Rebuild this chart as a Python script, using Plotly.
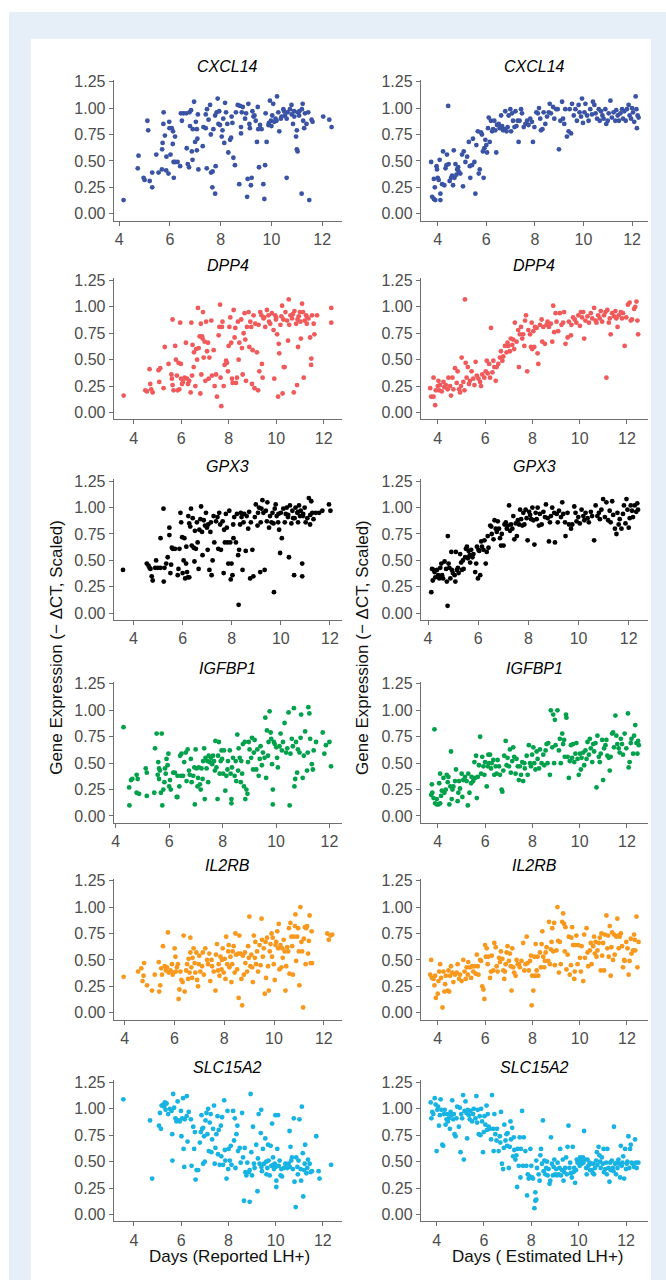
import plotly.graph_objects as go

# ---------------- data (Days, scaled expression) ----------------
cxcl14_rep = [(4.17,0.13),(4.73,0.43),(4.76,0.55),(4.96,0.34),(5.0,0.32),(5.11,0.88),(5.14,0.79),(5.2,0.31),(5.3,0.25),(5.3,0.39),
(5.46,0.56),(5.55,0.39),(5.68,0.42),(5.69,0.61),(5.71,0.67),(5.74,0.85),(5.75,0.96),(5.8,0.74),(5.85,0.41),(5.86,0.54),
(5.94,0.38),(5.97,0.87),(5.98,0.81),(6.02,0.56),(6.07,0.81),(6.11,0.66),(6.12,0.78),(6.15,0.34),(6.14,0.49),(6.2,0.73),
(6.2,0.49),(6.3,0.49),(6.4,0.45),(6.43,0.95),(6.47,0.88),(6.53,0.95),(6.64,0.95),(6.66,0.62),(6.7,0.47),(6.75,0.44),
(6.79,0.83),(6.77,0.96),(6.83,0.98),(6.86,0.59),(6.89,0.51),(6.9,0.8),(6.95,1.06),(6.99,0.68),(7.02,0.87),(7.06,0.6),
(7.06,0.8),(7.08,0.71),(7.1,0.94),(7.12,0.42),(7.29,0.64),(7.32,0.82),(7.41,0.81),(7.41,0.94),(7.45,0.43),(7.46,0.99),
(7.52,0.89),(7.58,1.03),(7.61,0.75),(7.62,0.39),(7.67,0.25),(7.68,0.4),(7.71,0.8),(7.78,0.93),(7.84,0.96),(7.78,0.19),
(7.8,0.45),(7.88,1.09),(7.91,0.85),(7.97,0.84),(7.94,0.97),(8.04,0.73),(8.07,0.79),(8.1,0.9),(8.14,0.67),(8.17,1.05),
(8.21,0.96),(8.26,0.85),(8.3,0.58),(8.37,0.7),(8.41,0.72),(8.43,0.92),(8.46,0.86),(8.5,0.53),(8.56,0.46),(8.6,0.96),
(8.67,1.03),(8.73,0.28),(8.76,1.02),(8.8,0.76),(8.8,0.82),(8.83,0.96),(8.87,1.01),(8.96,0.9),(9.0,0.95),(9.04,0.16),
(9.06,0.33),(9.09,1.04),(9.13,0.85),(9.15,0.81),(9.19,0.27),(9.22,0.34),(9.25,0.97),(9.29,0.92),(9.33,0.93),(9.38,0.88),
(9.43,0.68),(9.46,1.01),(9.48,0.8),(9.51,0.44),(9.55,0.84),(9.61,0.8),(9.68,0.28),(9.72,0.14),(9.75,0.46),(9.77,0.95),
(9.81,0.68),(9.88,0.84),(9.94,1.07),(9.98,0.88),(10.03,0.93),(10.07,1.04),(10.11,0.87),(10.16,0.9),(10.22,1.11),(10.27,0.96),
(10.31,0.78),(10.37,0.9),(10.47,0.99),(10.53,0.93),(10.6,0.34),(10.64,0.96),(10.73,0.99),(10.79,1.03),(10.85,0.85),(10.89,0.97),
(10.97,0.73),(11.0,0.79),(11.0,0.61),(11.03,0.59),(11.03,0.96),(11.09,0.93),(11.19,0.19),(11.23,1.04),(11.25,0.88),(11.29,0.81),
(11.32,0.95),(11.38,0.85),(11.45,0.96),(11.49,0.13),(11.58,0.89),(11.62,0.87),(12.04,0.92),(12.28,0.89),(12.37,0.82),
(10.2,0.88),(10.4,0.92),(10.6,0.9),(10.9,0.92),(9.9,0.86),(10.0,0.83),(11.1,0.97),(11.2,0.99),(10.5,0.97),(10.8,0.94)]

cxcl14_est = [(3.73,0.49),(3.77,0.16),(3.84,0.14),(3.9,0.13),(3.84,0.33),(3.88,0.25),(3.95,0.45),(3.97,0.42),(4.0,0.34),(4.04,0.32),
(4.08,0.51),(4.11,0.13),(4.11,0.19),(4.18,0.28),(4.22,0.59),(4.27,0.27),(4.32,0.43),(4.36,0.46),(4.38,0.56),(4.43,1.02),
(4.45,0.47),(4.49,0.31),(4.55,0.34),(4.59,0.36),(4.63,0.27),(4.66,0.6),(4.69,0.34),(4.73,0.47),(4.77,0.37),(4.8,0.42),
(4.84,0.44),(4.86,0.4),(4.93,0.38),(5.0,0.56),(5.04,0.26),(5.07,0.59),(5.14,0.49),(5.21,0.54),(5.28,0.68),(5.32,0.45),
(5.34,0.34),(5.41,0.46),(5.45,0.71),(5.51,0.49),(5.55,0.19),(5.59,0.65),(5.65,0.78),(5.69,0.38),(5.73,0.42),(5.78,0.77),
(5.82,0.75),(5.86,0.59),(5.89,0.34),(5.92,0.62),(5.96,0.7),(6.0,0.65),(6.03,0.58),(6.07,0.81),(6.1,0.91),(6.14,0.68),
(6.19,0.88),(6.24,0.78),(6.28,0.8),(6.33,0.88),(6.37,0.79),(6.41,0.58),(6.44,0.84),(6.51,0.85),(6.55,0.81),(6.61,0.93),
(6.65,0.83),(6.69,0.79),(6.74,0.8),(6.78,0.97),(6.83,0.78),(6.88,0.82),(6.92,0.93),(6.99,0.99),(7.02,0.78),(7.06,0.95),
(7.1,0.88),(7.16,0.82),(7.2,0.97),(7.24,0.83),(7.29,0.88),(7.33,0.68),(7.37,0.88),(7.43,0.99),(7.47,0.95),(7.54,0.82),
(7.61,0.85),(7.68,0.88),(7.74,0.84),(7.81,0.9),(7.88,0.87),(7.92,0.68),(7.98,0.82),(8.06,0.96),(8.12,0.95),(8.17,1.0),
(8.22,0.9),(8.25,0.79),(8.31,0.8),(8.36,0.96),(8.43,0.85),(8.5,0.92),(8.57,0.96),(8.61,1.04),(8.66,0.95),(8.75,1.01),
(8.8,0.9),(8.88,0.99),(8.94,0.99),(8.99,0.61),(9.05,0.88),(9.12,1.06),(9.16,0.9),(9.21,0.85),(9.25,0.99),(9.32,0.73),
(9.39,0.78),(9.43,0.99),(9.49,0.76),(9.53,1.04),(9.6,0.93),(9.67,0.99),(9.73,0.88),(9.8,1.03),(9.84,0.96),(9.9,0.92),
(9.94,1.09),(9.98,0.86),(10.04,0.96),(10.08,1.04),(10.15,0.93),(10.21,0.88),(10.28,0.99),(10.35,0.94),(10.39,1.06),(10.45,1.03),
(10.5,0.95),(10.56,0.9),(10.63,0.99),(10.67,0.88),(10.72,0.97),(10.78,0.93),(10.83,0.9),(10.9,0.99),(10.94,0.85),(11.0,0.88),
(11.04,0.95),(11.11,1.07),(11.17,0.91),(11.24,0.96),(11.31,0.88),(11.35,0.98),(11.41,0.93),(11.46,0.88),(11.52,0.95),(11.59,0.99),
(11.63,0.9),(11.68,0.97),(11.74,0.88),(11.79,0.99),(11.86,1.03),(11.9,0.93),(11.96,0.9),(12.0,1.0),(12.04,0.96),(12.09,0.87),
(12.15,1.11),(12.18,0.99),(12.2,0.81),(12.23,0.93),(12.27,0.91)]

dpp4_rep = [(3.58,0.16),(4.49,0.21),(4.56,0.2),(4.67,0.41),(4.7,0.27),(4.74,0.22),(4.8,0.19),(5.05,0.4),(5.12,0.42),(5.08,0.29),
(5.26,0.23),(5.31,0.62),(5.47,0.46),(5.59,0.36),(5.61,0.32),(5.64,0.88),(5.64,0.26),(5.68,0.21),(5.75,0.63),(5.78,0.5),
(5.82,0.35),(5.85,0.21),(5.89,0.47),(5.92,0.22),(5.96,0.85),(5.99,0.46),(6.0,0.32),(6.04,0.27),(6.08,0.29),(6.15,0.33),
(6.2,0.66),(6.25,0.32),(6.29,0.27),(6.34,0.3),(6.4,0.19),(6.43,0.85),(6.46,0.35),(6.48,0.64),(6.53,0.43),(6.54,0.57),
(6.6,0.25),(6.63,0.6),(6.67,0.5),(6.71,0.99),(6.74,0.61),(6.78,0.72),(6.81,0.18),(6.83,0.84),(6.85,0.36),(6.88,0.72),
(6.9,0.7),(6.92,0.95),(6.95,0.52),(6.99,0.67),(7.02,0.3),(7.05,0.86),(7.09,0.58),(7.13,0.66),(7.16,0.32),(7.19,0.52),
(7.27,0.87),(7.3,0.35),(7.37,0.59),(7.41,0.25),(7.47,0.36),(7.51,0.15),(7.58,0.73),(7.61,0.81),(7.64,1.02),(7.66,0.33),
(7.69,0.06),(7.72,0.81),(7.74,0.86),(7.79,0.25),(7.83,0.45),(7.89,0.49),(7.93,0.47),(7.97,0.39),(8.0,0.63),(8.03,0.81),
(8.07,0.9),(8.11,0.66),(8.14,0.32),(8.17,0.28),(8.21,0.97),(8.25,0.71),(8.28,0.8),(8.31,0.28),(8.35,0.33),(8.39,0.86),
(8.42,0.5),(8.45,0.66),(8.53,0.88),(8.56,0.61),(8.59,0.36),(8.63,0.75),(8.67,0.94),(8.7,0.69),(8.73,0.3),(8.77,0.81),
(8.84,0.95),(8.87,0.62),(8.91,0.86),(8.95,0.81),(8.98,0.27),(9.01,0.59),(9.05,0.92),(9.09,0.23),(9.12,0.84),(9.19,0.57),
(9.24,0.21),(9.26,0.83),(9.29,0.39),(9.33,0.95),(9.38,0.92),(9.4,0.46),(9.43,0.33),(9.47,0.89),(9.54,0.81),(9.61,0.97),
(9.68,0.92),(9.75,0.84),(9.82,0.94),(9.89,0.78),(9.92,0.32),(9.96,0.92),(9.99,0.88),(10.04,0.74),(10.08,0.15),(10.11,0.65),
(10.13,0.56),(10.18,0.83),(10.22,0.91),(10.25,1.01),(10.27,0.18),(10.32,0.43),(10.36,0.43),(10.39,0.95),(10.46,0.87),(10.5,0.68),
(10.53,1.07),(10.55,0.83),(10.6,0.92),(10.67,0.89),(10.74,0.19),(10.77,0.96),(10.84,0.84),(10.88,0.26),(10.92,0.62),(10.95,0.91),
(11.02,0.86),(11.04,0.7),(11.09,1.03),(11.13,0.95),(11.16,0.33),(11.2,0.87),(11.26,0.92),(11.29,0.84),(11.36,0.89),(11.43,0.71),
(11.47,0.45),(11.48,0.51),(11.51,0.92),(11.58,0.84),(11.61,0.74),(11.72,0.92),(12.32,0.99),(12.32,0.85),
(9.7,0.86),(10.0,0.9),(10.3,0.88),(10.7,0.93),(11.0,0.95),(11.3,0.9),(9.5,0.9),(10.9,0.88)]

dpp4_est = [(3.68,0.23),(3.72,0.15),(3.82,0.15),(3.82,0.33),(3.89,0.07),(3.92,0.21),(4.0,0.25),(4.06,0.21),(4.03,0.3),(4.1,0.26),
(4.17,0.2),(4.24,0.29),(4.28,0.24),(4.34,0.26),(4.42,0.22),(4.45,0.33),(4.52,0.25),(4.56,0.16),(4.62,0.33),(4.66,0.22),
(4.73,0.42),(4.8,0.28),(4.84,0.39),(4.9,0.22),(4.94,0.19),(4.98,0.25),(5.01,0.52),(5.08,0.29),(5.13,0.21),(5.15,1.07),
(5.18,0.47),(5.22,0.33),(5.27,0.43),(5.32,0.27),(5.36,0.3),(5.43,0.39),(5.5,0.32),(5.55,0.26),(5.6,0.48),(5.65,0.35),
(5.72,0.32),(5.79,0.29),(5.83,0.25),(5.88,0.36),(5.97,0.33),(6.03,0.39),(6.07,0.49),(6.11,0.37),(6.17,0.46),(6.21,0.33),
(6.25,0.8),(6.31,0.38),(6.35,0.49),(6.39,0.43),(6.45,0.3),(6.49,0.43),(6.56,0.46),(6.63,0.52),(6.67,0.58),(6.73,0.49),
(6.77,0.53),(6.84,0.63),(6.91,0.57),(6.95,0.66),(6.98,0.63),(7.05,0.58),(7.09,0.7),(7.15,0.64),(7.19,0.69),(7.23,0.6),
(7.26,0.85),(7.33,0.67),(7.4,0.78),(7.43,0.43),(7.47,0.74),(7.52,0.81),(7.57,0.7),(7.61,0.74),(7.66,0.63),(7.69,0.87),
(7.73,0.92),(7.78,0.39),(7.83,0.78),(7.9,0.74),(7.94,0.62),(7.97,0.85),(7.99,0.6),(8.04,0.77),(8.08,0.62),(8.11,0.81),
(8.18,0.8),(8.22,0.56),(8.25,0.46),(8.32,0.83),(8.39,0.88),(8.42,0.67),(8.46,0.81),(8.53,0.65),(8.6,0.83),(8.64,0.86),
(8.7,0.81),(8.78,0.84),(8.84,0.67),(8.88,1.01),(8.92,0.76),(8.98,0.94),(9.02,0.86),(9.09,0.77),(9.16,0.94),(9.23,0.83),
(9.3,0.85),(9.34,0.95),(9.4,0.65),(9.49,0.71),(9.54,0.86),(9.63,0.73),(9.65,0.83),(9.72,0.9),(9.79,0.88),(9.86,0.85),
(9.94,0.92),(10.01,0.82),(10.05,0.95),(10.1,0.9),(10.15,0.95),(10.19,0.7),(10.24,0.87),(10.33,0.91),(10.39,0.85),(10.47,0.94),
(10.53,0.89),(10.61,0.99),(10.67,0.87),(10.71,0.85),(10.78,0.92),(10.85,0.89),(10.89,0.96),(10.95,0.86),(11.03,0.92),(11.09,0.95),
(11.13,0.33),(11.17,0.97),(11.23,0.85),(11.27,0.89),(11.31,0.74),(11.37,0.94),(11.45,0.91),(11.51,0.96),(11.55,0.89),(11.6,0.81),
(11.65,0.92),(11.74,0.95),(11.79,0.89),(11.83,0.94),(11.9,0.63),(11.97,0.9),(12.04,1.02),(12.11,1.04),(12.16,0.87),(12.21,0.88),
(12.3,0.98),(12.35,1.0),(12.4,1.05),(12.44,0.87),(12.47,0.74)]

gpx3_rep = [(3.57,0.41),(4.54,0.47),(4.61,0.45),(4.65,0.43),(4.69,0.42),(4.74,0.35),(4.78,0.31),(4.88,0.43),(4.99,0.43),(5.1,0.43),
(4.92,0.5),(5.1,0.71),(5.22,0.99),(5.23,0.3),(5.26,0.43),(5.33,0.47),(5.39,0.53),(5.46,0.81),(5.46,0.74),(5.5,0.38),
(5.53,0.46),(5.56,0.62),(5.6,0.61),(5.69,0.61),(5.8,0.36),(5.83,0.42),(5.87,0.61),(5.91,0.95),(5.94,0.86),(5.98,0.72),
(6.0,0.38),(6.04,0.5),(6.07,0.71),(6.1,0.33),(6.14,0.47),(6.15,0.63),(6.18,0.39),(6.21,0.34),(6.27,0.34),(6.23,0.92),
(6.27,0.85),(6.31,0.82),(6.34,0.99),(6.37,0.64),(6.41,0.9),(6.45,0.62),(6.48,0.49),(6.5,0.78),(6.54,0.61),(6.58,0.86),
(6.61,0.67),(6.65,0.42),(6.68,0.79),(6.72,0.89),(6.75,1.01),(6.79,0.77),(6.81,0.55),(6.86,0.88),(6.91,0.83),(6.95,0.95),
(6.99,0.81),(7.02,0.6),(7.04,0.84),(7.09,0.41),(7.13,0.77),(7.15,0.86),(7.18,0.36),(7.22,0.5),(7.26,0.92),(7.29,0.67),
(7.36,0.87),(7.42,0.91),(7.45,0.61),(7.49,0.95),(7.53,0.84),(7.56,0.6),(7.63,0.87),(7.67,0.38),(7.69,0.79),(7.72,0.67),
(7.76,0.94),(7.8,0.81),(7.83,0.67),(7.86,0.47),(7.9,0.97),(7.94,0.67),(7.96,0.32),(7.99,0.47),(8.03,0.36),(8.06,0.84),
(8.07,0.71),(8.1,0.91),(8.17,0.67),(8.21,0.94),(8.26,0.55),(8.28,0.08),(8.3,0.6),(8.34,0.84),(8.37,0.95),(8.4,0.91),
(8.44,0.41),(8.48,0.86),(8.51,0.94),(8.57,0.59),(8.61,0.92),(8.67,0.8),(8.71,0.96),(8.75,0.33),(8.78,0.86),(8.84,0.6),
(8.88,0.35),(8.94,0.91),(8.98,1.03),(9.05,0.83),(9.07,0.95),(9.11,1.0),(9.16,0.39),(9.18,0.86),(9.21,0.99),(9.25,1.07),
(9.29,0.95),(9.34,0.41),(9.39,0.97),(9.43,0.87),(9.45,1.05),(9.52,0.81),(9.56,0.92),(9.62,0.86),(9.66,0.95),(9.7,0.85),
(9.72,0.2),(9.75,0.99),(9.79,1.03),(9.83,0.92),(9.89,0.86),(9.93,0.79),(9.97,0.57),(10.0,0.95),(10.04,0.71),(10.1,0.99),
(10.16,0.86),(10.2,0.94),(10.24,1.0),(10.29,0.91),(10.33,0.53),(10.37,1.02),(10.43,0.85),(10.47,0.97),(10.54,0.36),(10.56,0.9),
(10.6,1.0),(10.67,0.95),(10.7,0.86),(10.74,1.02),(10.78,0.92),(10.81,0.97),(10.87,0.47),(10.87,0.35),(10.91,0.94),(10.97,1.0),
(11.01,0.86),(11.08,0.9),(11.14,1.09),(11.19,0.84),(11.24,1.06),(11.28,0.95),(11.33,0.89),(11.42,0.95),(11.56,0.95),(11.69,0.97),
(11.96,1.03),(12.02,0.97),(10.3,0.93),(10.5,0.9),(10.9,0.92),(11.2,0.93),(9.9,0.94),(10.7,0.96)]

gpx3_est = [(4.13,0.2),(4.16,0.42),(4.19,0.31),(4.23,0.41),(4.26,0.39),(4.29,0.34),(4.36,0.41),(4.4,0.36),(4.45,0.33),(4.49,0.43),
(4.53,0.47),(4.56,0.36),(4.6,0.33),(4.66,0.49),(4.72,0.42),(4.75,0.3),(4.78,0.07),(4.79,0.73),(4.82,0.47),(4.85,0.43),
(4.89,0.33),(4.93,0.58),(4.95,0.41),(4.99,0.38),(5.06,0.36),(5.09,0.3),(5.11,0.58),(5.15,0.41),(5.19,0.43),(5.22,0.38),
(5.28,0.56),(5.32,0.48),(5.35,0.41),(5.39,0.5),(5.42,0.42),(5.48,0.53),(5.51,0.61),(5.55,0.63),(5.59,0.52),(5.62,0.59),
(5.66,0.55),(5.68,0.48),(5.72,0.6),(5.77,0.53),(5.81,0.56),(5.88,0.39),(5.92,0.47),(5.95,0.63),(5.99,0.33),(6.01,0.6),
(6.04,0.59),(6.08,0.36),(6.12,0.68),(6.15,0.63),(6.21,0.6),(6.25,0.69),(6.3,0.47),(6.34,0.58),(6.38,0.73),(6.41,0.62),
(6.48,0.83),(6.52,0.82),(6.54,0.75),(6.61,0.7),(6.65,0.88),(6.7,0.8),(6.74,0.77),(6.78,0.87),(6.83,0.8),(6.87,0.71),
(6.91,0.64),(6.94,0.75),(7.01,0.64),(7.05,0.84),(7.1,0.86),(7.14,0.8),(7.18,0.83),(7.23,1.02),(7.27,0.78),(7.31,0.84),
(7.36,0.8),(7.4,0.92),(7.44,0.7),(7.5,0.85),(7.54,0.73),(7.58,0.88),(7.63,0.84),(7.67,0.98),(7.71,0.89),(7.76,0.83),
(7.8,0.95),(7.84,0.84),(7.89,0.98),(7.93,0.9),(7.97,0.69),(8.03,0.96),(8.07,0.93),(8.11,0.89),(8.16,1.0),(8.2,0.88),
(8.24,0.65),(8.29,0.95),(8.33,0.89),(8.37,1.0),(8.42,0.83),(8.46,0.94),(8.53,0.84),(8.6,0.96),(8.66,0.91),(8.7,1.03),
(8.77,0.9),(8.82,0.68),(8.86,0.86),(8.9,0.92),(8.95,1.0),(9.03,0.95),(9.06,0.67),(9.13,0.94),(9.17,0.86),(9.22,0.97),
(9.3,0.91),(9.35,1.05),(9.39,0.94),(9.46,0.86),(9.48,0.73),(9.56,0.95),(9.62,0.84),(9.7,0.8),(9.75,0.84),(9.83,1.01),
(9.88,0.95),(9.92,0.87),(9.99,0.91),(10.05,0.85),(10.12,0.98),(10.19,0.92),(10.23,0.88),(10.28,0.95),(10.36,0.9),(10.41,0.86),
(10.49,0.96),(10.54,0.92),(10.62,0.69),(10.68,1.02),(10.75,0.92),(10.81,0.95),(10.85,0.89),(10.91,0.98),(10.98,1.08),(11.05,0.91),
(11.11,1.05),(11.18,0.88),(11.24,0.97),(11.28,0.86),(11.34,1.06),(11.38,0.93),(11.45,0.8),(11.51,0.75),(11.55,0.95),(11.6,0.84),
(11.64,0.89),(11.71,0.8),(11.77,0.94),(11.81,1.02),(11.87,0.85),(11.91,1.08),(11.95,0.98),(12.0,0.81),(12.04,0.9),(12.08,1.02),
(12.13,0.97),(12.17,0.91),(12.24,1.02),(12.3,0.96),(12.34,1.04),(12.37,0.98)]

igfbp1_rep = [(4.29,0.84),(4.5,0.27),(4.51,0.1),(4.57,0.34),(4.62,0.35),(4.78,0.39),(4.78,0.22),(4.87,0.21),(4.82,0.35),(5.12,0.45),
(5.16,0.41),(5.16,0.19),(5.44,0.22),(5.47,0.64),(5.53,0.78),(5.57,0.39),(5.59,0.51),(5.62,0.45),(5.62,0.35),(5.65,0.43),
(5.69,0.22),(5.72,0.78),(5.74,0.1),(5.78,0.25),(5.82,0.32),(5.84,0.45),(5.87,0.4),(5.9,0.54),(5.94,0.48),(5.97,0.59),
(6.0,0.28),(6.03,0.34),(6.06,0.25),(6.15,0.41),(6.21,0.41),(6.28,0.18),(6.31,0.18),(6.31,0.38),(6.38,0.28),(6.41,0.57),
(6.44,0.38),(6.46,0.59),(6.52,0.38),(6.56,0.51),(6.62,0.6),(6.65,0.33),(6.69,0.63),(6.74,0.43),(6.77,0.39),(6.81,0.54),
(6.84,0.32),(6.9,0.38),(6.94,0.46),(6.96,0.11),(6.99,0.63),(7.02,0.45),(7.06,0.28),(7.08,0.36),(7.11,0.46),(7.15,0.3),
(7.18,0.25),(7.21,0.45),(7.25,0.35),(7.27,0.52),(7.31,0.64),(7.33,0.16),(7.36,0.55),(7.4,0.45),(7.43,0.52),(7.46,0.32),
(7.48,0.57),(7.52,0.51),(7.56,0.55),(7.61,0.49),(7.64,0.57),(7.68,0.52),(7.71,0.43),(7.73,0.71),(7.77,0.46),(7.81,0.16),
(7.83,0.57),(7.86,0.7),(7.89,0.4),(7.93,0.52),(7.96,0.62),(7.98,0.54),(8.02,0.4),(8.05,0.62),(8.1,0.24),(8.14,0.38),
(8.18,0.44),(8.2,0.52),(8.27,0.62),(8.3,0.4),(8.33,0.16),(8.33,0.12),(8.35,0.46),(8.39,0.55),(8.45,0.38),(8.49,0.52),
(8.51,0.33),(8.55,0.77),(8.58,0.43),(8.6,0.64),(8.64,0.55),(8.68,0.32),(8.7,0.52),(8.73,0.4),(8.76,0.68),(8.8,0.28),
(8.83,0.7),(8.85,0.16),(8.89,0.25),(8.93,0.21),(8.95,0.51),(8.98,0.7),(9.01,0.63),(9.07,0.55),(9.1,0.74),(9.14,0.44),
(9.17,0.6),(9.2,0.72),(9.26,0.44),(9.3,0.63),(9.35,0.38),(9.39,0.54),(9.42,0.66),(9.47,0.48),(9.51,0.6),(9.57,0.55),
(9.6,0.93),(9.63,0.36),(9.66,0.81),(9.7,0.57),(9.72,0.7),(9.76,0.99),(9.8,0.79),(9.82,0.73),(9.85,0.49),(9.88,0.25),
(9.88,0.11),(9.92,0.7),(9.95,0.68),(10.01,0.65),(10.04,0.55),(10.07,0.46),(10.13,0.66),(10.17,0.78),(10.22,0.62),(10.26,0.7),
(10.32,0.88),(10.38,0.6),(10.42,0.64),(10.47,0.98),(10.51,0.1),(10.54,0.59),(10.59,0.73),(10.63,0.66),(10.67,1.02),(10.69,0.28),
(10.72,0.35),(10.75,0.7),(10.79,0.41),(10.82,0.63),(10.88,0.6),(10.92,0.74),(10.94,0.96),(11.0,0.36),(11.04,0.57),(11.09,0.8),
(11.16,0.43),(11.19,0.6),(11.21,1.03),(11.25,0.97),(11.28,0.73),(11.34,0.49),(11.38,0.44),(11.41,0.62),(11.5,0.7),(11.75,0.79),
(11.81,0.59),(11.87,0.67),(12.0,0.7),(12.06,0.47)]

igfbp1_est = [(3.72,0.2),(3.75,0.3),(3.77,0.22),(3.82,0.17),(3.86,0.82),(3.89,0.12),(3.96,0.11),(4.03,0.11),(4.1,0.12),(3.96,0.16),
(4.06,0.31),(4.1,0.4),(4.14,0.19),(4.17,0.24),(4.24,0.36),(4.28,0.22),(4.34,0.25),(4.38,0.39),(4.42,0.32),(4.45,0.37),
(4.49,0.11),(4.53,0.28),(4.56,0.61),(4.59,0.16),(4.62,0.25),(4.66,0.28),(4.73,0.33),(4.77,0.44),(4.84,0.14),(4.87,0.22),
(4.9,0.33),(4.94,0.26),(5.01,0.4),(5.04,0.18),(5.08,0.34),(5.15,0.37),(5.22,0.33),(5.27,0.1),(5.29,0.4),(5.34,0.22),
(5.41,0.31),(5.43,0.37),(5.5,0.33),(5.55,0.51),(5.58,0.36),(5.62,0.57),(5.65,0.17),(5.69,0.37),(5.74,0.48),(5.79,0.75),
(5.83,0.4),(5.88,0.56),(5.93,0.47),(5.97,0.39),(6.0,0.51),(6.07,0.28),(6.11,0.47),(6.14,0.58),(6.17,0.5),(6.21,0.58),
(6.25,0.45),(6.28,0.5),(6.35,0.53),(6.39,0.39),(6.45,0.47),(6.49,0.4),(6.53,0.53),(6.59,0.47),(6.63,0.39),(6.7,0.25),
(6.73,0.23),(6.77,0.43),(6.81,0.57),(6.87,0.71),(6.91,0.48),(6.95,0.55),(7.01,0.47),(7.05,0.63),(7.09,0.41),(7.15,0.52),
(7.19,0.65),(7.23,0.56),(7.29,0.4),(7.33,0.54),(7.38,0.47),(7.43,0.34),(7.47,0.47),(7.52,0.39),(7.57,0.51),(7.61,0.33),
(7.66,0.5),(7.68,0.45),(7.76,0.57),(7.8,0.39),(7.85,0.67),(7.9,0.5),(7.94,0.47),(7.99,0.58),(8.04,0.65),(8.08,0.5),
(8.13,0.44),(8.18,0.61),(8.22,0.54),(8.28,0.45),(8.32,0.63),(8.39,0.5),(8.46,0.58),(8.5,0.48),(8.56,0.62),(8.6,0.68),
(8.64,0.5),(8.67,0.69),(8.74,0.39),(8.78,1.0),(8.84,0.65),(8.88,0.96),(8.95,0.91),(8.92,0.5),(8.98,0.67),(9.06,1.0),
(9.12,0.62),(9.16,0.73),(9.2,0.5),(9.26,0.78),(9.3,0.68),(9.34,0.72),(9.37,0.56),(9.42,0.96),(9.44,0.93),(9.49,0.56),
(9.54,0.36),(9.58,0.52),(9.63,0.67),(9.68,0.55),(9.72,0.68),(9.77,0.51),(9.82,0.59),(9.86,0.69),(9.91,0.54),(9.96,0.39),
(10.01,0.59),(10.05,0.44),(10.08,0.55),(10.15,0.6),(10.19,0.48),(10.24,0.62),(10.29,0.54),(10.33,0.7),(10.39,0.58),(10.43,0.73),
(10.47,0.64),(10.53,0.51),(10.57,0.68),(10.61,0.61),(10.67,0.69),(10.71,0.27),(10.75,0.76),(10.81,0.56),(10.85,0.51),(10.89,0.59),
(10.95,0.72),(10.99,0.34),(11.03,0.64),(11.09,0.67),(11.13,0.72),(11.17,0.57),(11.23,0.55),(11.27,0.43),(11.31,0.56),(11.37,0.78),
(11.41,0.79),(11.45,0.65),(11.51,0.95),(11.55,0.76),(11.59,0.68),(11.65,0.64),(11.69,0.6),(11.74,0.73),(11.79,0.68),(11.83,0.58),
(11.9,0.78),(11.97,0.64),(12.04,0.97),(12.07,0.46),(12.11,0.51),(12.16,0.69),(12.19,0.73),(12.26,0.59),(12.3,0.76),(12.35,0.86),
(12.4,0.69),(12.44,0.59),(12.47,0.71),(12.5,0.67)]

il2rb_rep = [(3.96,0.34),(4.54,0.39),(4.67,0.42),(4.72,0.3),(4.76,0.35),(4.78,0.47),(4.9,0.26),(5.1,0.21),(5.21,0.36),(5.37,0.48),
(5.39,0.2),(5.43,0.26),(5.47,0.42),(5.5,0.36),(5.54,0.63),(5.61,0.44),(5.66,0.4),(5.7,0.43),(5.74,0.76),(5.77,0.38),
(5.84,0.4),(5.9,0.46),(5.93,0.36),(5.97,0.38),(6.01,0.61),(6.04,0.53),(6.06,0.39),(6.1,0.43),(6.14,0.46),(6.17,0.13),
(6.2,0.22),(6.24,0.39),(6.28,0.31),(6.33,0.29),(6.37,0.73),(6.41,0.2),(6.47,0.4),(6.51,0.46),(6.55,0.32),(6.57,0.51),
(6.61,0.38),(6.64,0.71),(6.64,0.57),(6.68,0.43),(6.71,0.33),(6.73,0.52),(6.77,0.61),(6.81,0.47),(6.84,0.38),(6.88,0.57),
(6.91,0.31),(6.95,0.25),(6.98,0.46),(7.0,0.54),(7.04,0.39),(7.11,0.44),(7.14,0.57),(7.18,0.36),(7.24,0.61),(7.31,0.5),
(7.35,0.46),(7.4,0.56),(7.44,0.3),(7.49,0.5),(7.51,0.44),(7.58,0.39),(7.65,0.21),(7.67,0.55),(7.71,0.65),(7.75,0.4),
(7.78,0.46),(7.81,0.35),(7.85,0.53),(7.89,0.41),(7.91,0.5),(7.94,0.61),(7.98,0.38),(8.02,0.51),(8.05,0.32),(8.08,0.72),
(8.12,0.46),(8.16,0.58),(8.18,0.64),(8.21,0.43),(8.25,0.53),(8.29,0.29),(8.32,0.46),(8.34,0.58),(8.38,0.63),(8.42,0.38),
(8.45,0.75),(8.48,0.55),(8.52,0.41),(8.56,0.56),(8.58,0.14),(8.61,0.73),(8.65,0.56),(8.69,0.32),(8.72,0.07),(8.75,0.54),
(8.79,0.36),(8.83,0.57),(8.85,0.47),(8.92,0.39),(8.96,0.63),(8.99,0.52),(9.01,0.91),(9.05,0.44),(9.09,0.55),(9.12,0.43),
(9.15,0.29),(9.19,0.73),(9.23,0.52),(9.25,0.67),(9.28,0.46),(9.32,0.58),(9.36,0.39),(9.42,0.64),(9.46,0.45),(9.5,0.89),
(9.52,0.69),(9.55,0.53),(9.59,0.61),(9.63,0.18),(9.66,0.67),(9.68,0.33),(9.72,0.71),(9.76,0.44),(9.79,0.21),(9.83,0.58),
(9.86,0.65),(9.9,0.75),(9.92,0.53),(9.95,0.71),(9.99,0.46),(10.03,0.31),(10.06,0.64),(10.09,0.67),(10.13,0.77),(10.17,0.61),
(10.19,0.84),(10.22,0.41),(10.26,0.64),(10.3,0.43),(10.33,0.61),(10.35,0.52),(10.39,0.69),(10.43,0.58),(10.46,0.21),(10.49,0.44),
(10.53,0.62),(10.57,0.58),(10.6,0.8),(10.62,0.37),(10.66,0.85),(10.7,0.72),(10.73,0.63),(10.76,0.36),(10.8,0.72),(10.84,0.82),
(10.86,0.93),(10.89,0.49),(10.93,0.72),(10.97,0.8),(11.0,0.58),(11.02,0.26),(11.06,1.0),(11.1,0.67),(11.13,0.58),(11.17,0.05),
(11.2,0.7),(11.24,0.81),(11.27,0.46),(11.29,0.8),(11.33,0.82),(11.37,0.56),(11.4,0.68),(11.43,0.92),(11.47,0.47),(11.51,0.77),
(11.53,0.47),(12.14,0.75),(12.2,0.69),(12.27,0.73),(12.34,0.74)]

il2rb_est = [(3.72,0.5),(3.68,0.36),(3.75,0.33),(3.82,0.32),(3.86,0.26),(3.89,0.35),(3.92,0.14),(4.0,0.18),(4.03,0.3),(4.06,0.39),
(4.1,0.46),(4.14,0.33),(4.2,0.05),(4.24,0.39),(4.28,0.2),(4.31,0.27),(4.34,0.35),(4.42,0.21),(4.45,0.4),(4.48,0.2),
(4.52,0.35),(4.56,0.44),(4.62,0.38),(4.66,0.29),(4.73,0.36),(4.8,0.38),(4.84,0.46),(4.9,0.32),(4.94,0.36),(5.01,0.3),
(5.08,0.5),(5.13,0.39),(5.18,0.32),(5.22,0.43),(5.27,0.36),(5.29,0.48),(5.36,0.43),(5.41,0.33),(5.46,0.44),(5.5,0.39),
(5.55,0.44),(5.6,0.37),(5.65,0.55),(5.69,0.44),(5.72,0.36),(5.79,0.5),(5.83,0.49),(5.88,0.25),(5.93,0.22),(5.97,0.13),
(6.0,0.64),(6.03,0.53),(6.07,0.61),(6.11,0.46),(6.14,0.53),(6.21,0.33),(6.25,0.39),(6.28,0.54),(6.35,0.4),(6.39,0.66),
(6.45,0.62),(6.49,0.44),(6.53,0.39),(6.59,0.52),(6.63,0.48),(6.67,0.58),(6.73,0.51),(6.77,0.4),(6.81,0.32),(6.84,0.39),
(6.87,0.46),(6.91,0.57),(6.95,0.63),(7.01,0.49),(7.05,0.56),(7.09,0.44),(7.12,0.21),(7.15,0.61),(7.19,0.43),(7.23,0.38),
(7.29,0.35),(7.33,0.5),(7.38,0.46),(7.43,0.46),(7.47,0.43),(7.54,0.49),(7.61,0.66),(7.66,0.4),(7.71,0.46),(7.76,0.72),
(7.8,0.47),(7.85,0.4),(7.9,0.49),(7.94,0.54),(7.97,0.07),(7.99,0.35),(8.04,0.21),(8.08,0.53),(8.11,0.35),(8.14,0.65),
(8.18,0.4),(8.22,0.53),(8.25,0.35),(8.32,0.57),(8.36,0.43),(8.39,0.65),(8.42,0.77),(8.46,0.53),(8.5,0.43),(8.53,0.49),
(8.56,0.57),(8.6,0.62),(8.67,0.49),(8.7,0.86),(8.74,0.46),(8.78,0.6),(8.81,0.67),(8.84,0.8),(8.88,0.58),(8.92,0.85),
(8.95,0.45),(9.02,0.59),(9.06,1.0),(9.09,0.68),(9.12,0.38),(9.16,0.67),(9.2,0.46),(9.26,0.86),(9.3,0.94),(9.34,0.84),
(9.37,0.58),(9.4,0.81),(9.44,0.41),(9.49,0.55),(9.54,0.72),(9.58,0.36),(9.63,0.45),(9.65,0.71),(9.68,0.81),(9.72,0.64),
(9.77,0.32),(9.79,0.39),(9.82,0.64),(9.86,0.73),(9.91,0.46),(9.94,0.64),(10.01,0.52),(10.05,0.39),(10.08,0.63),(10.15,0.3),
(10.19,0.74),(10.22,0.52),(10.29,0.8),(10.33,0.57),(10.36,0.44),(10.43,0.59),(10.47,0.66),(10.5,0.46),(10.57,0.63),(10.61,0.72),
(10.64,0.56),(10.67,0.67),(10.71,0.53),(10.75,0.59),(10.81,0.66),(10.85,0.71),(10.89,0.4),(10.92,0.75),(10.95,0.54),(10.99,0.66),
(11.03,0.4),(11.06,0.74),(11.13,0.92),(11.17,0.61),(11.2,0.73),(11.23,0.53),(11.27,0.82),(11.31,0.35),(11.34,0.62),(11.37,0.76),
(11.41,0.5),(11.45,0.74),(11.48,0.55),(11.55,0.72),(11.59,0.89),(11.62,0.73),(11.65,0.61),(11.69,0.72),(11.74,0.75),(11.79,0.63),
(11.83,0.43),(11.88,0.5),(11.9,0.49),(11.97,0.67),(12.02,0.61),(12.07,0.36),(12.11,0.49),(12.16,0.7),(12.19,0.56),(12.26,0.59),
(12.3,0.74),(12.33,0.69),(12.35,0.59),(12.4,0.91),(12.44,0.43),(12.49,0.67)]

slc15a2_rep = [(3.55,1.09),(4.68,0.89),(4.77,0.34),(5.06,0.84),(5.14,0.81),(5.1,0.96),(5.17,1.03),(5.24,1.04),(5.31,1.06),(5.38,1.05),
(5.28,1.02),(5.34,0.99),(5.45,0.95),(5.52,1.0),(5.59,0.98),(5.62,0.76),(5.63,0.51),(5.66,1.14),(5.7,1.01),(5.76,0.91),
(5.8,0.88),(5.85,1.07),(5.87,0.89),(5.94,0.88),(5.99,0.98),(6.01,0.74),(6.04,0.91),(6.08,1.1),(6.1,0.62),(6.13,0.45),
(6.15,0.9),(6.23,0.93),(6.24,1.12),(6.27,0.69),(6.32,0.97),(6.41,0.9),(6.44,0.46),(6.51,0.83),(6.55,0.62),(6.58,0.78),
(6.61,0.33),(6.65,0.42),(6.72,0.42),(6.79,0.68),(6.83,0.78),(6.86,0.94),(6.89,0.81),(6.93,0.48),(6.93,0.82),(6.97,0.74),
(7.0,0.5),(7.03,0.89),(7.07,0.96),(7.11,0.76),(7.14,1.0),(7.17,0.6),(7.21,0.87),(7.25,0.95),(7.28,0.59),(7.31,0.71),
(7.35,0.81),(7.39,1.03),(7.42,0.48),(7.45,0.63),(7.49,0.76),(7.54,0.93),(7.56,0.57),(7.59,0.8),(7.63,0.47),(7.68,0.84),
(7.7,0.55),(7.73,0.92),(7.77,0.47),(7.82,1.08),(7.85,0.61),(7.87,0.51),(7.92,0.34),(7.96,0.98),(7.99,0.43),(8.01,0.62),
(8.06,0.51),(8.1,0.65),(8.13,0.47),(8.2,0.98),(8.24,0.7),(8.27,0.91),(8.3,0.44),(8.34,0.76),(8.38,0.84),(8.41,0.6),
(8.48,0.63),(8.52,0.49),(8.58,0.96),(8.62,0.54),(8.66,0.13),(8.69,0.63),(8.72,0.4),(8.76,0.37),(8.8,0.49),(8.86,0.4),
(8.9,0.12),(8.94,1.14),(8.97,0.59),(9.0,0.37),(9.04,0.83),(9.08,0.48),(9.11,0.44),(9.18,0.66),(9.23,0.22),(9.25,0.53),
(9.28,0.95),(9.32,0.48),(9.37,0.77),(9.39,0.99),(9.42,0.41),(9.46,0.62),(9.51,0.48),(9.56,0.72),(9.61,0.38),(9.65,0.44),
(9.68,0.66),(9.7,0.51),(9.75,0.37),(9.79,0.65),(9.82,0.46),(9.85,0.86),(9.89,0.54),(9.93,0.43),(9.96,0.48),(9.99,0.94),
(10.03,0.26),(10.03,0.32),(10.07,0.62),(10.1,0.94),(10.13,0.46),(10.17,0.51),(10.21,0.37),(10.24,0.43),(10.27,0.36),(10.35,0.44),
(10.41,0.48),(10.49,0.44),(10.55,0.48),(10.59,0.79),(10.63,0.64),(10.66,0.51),(10.69,0.54),(10.73,0.43),(10.77,0.91),(10.8,0.31),
(10.85,0.07),(10.87,0.54),(10.92,0.45),(10.94,0.38),(10.97,0.51),(11.01,0.9),(11.06,0.43),(11.08,0.32),(11.11,1.02),(11.15,0.58),
(11.17,0.17),(11.23,0.48),(11.25,0.66),(11.3,0.39),(11.34,0.44),(11.37,0.52),(11.44,0.48),(11.48,0.4),(11.54,0.41),(11.72,0.74),
(11.82,0.41),(11.86,0.34),(12.35,0.47),(9.9,0.47),(10.0,0.45),(9.6,0.5),(10.6,0.45),(11.2,0.42),(8.9,0.42),(9.4,0.45)]

slc15a2_est = [(3.75,1.06),(3.78,0.91),(3.82,0.97),(3.86,0.95),(3.92,1.1),(3.96,1.04),(4.0,0.6),(4.03,0.99),(4.06,1.02),(4.1,0.84),
(4.14,0.94),(4.17,1.09),(4.2,0.99),(4.24,0.66),(4.28,0.65),(4.31,0.95),(4.34,0.99),(4.38,0.85),(4.42,0.9),(4.45,0.95),
(4.48,0.88),(4.52,0.91),(4.56,0.81),(4.59,0.97),(4.62,0.94),(4.66,1.08),(4.7,0.9),(4.73,0.95),(4.76,0.76),(4.8,0.74),
(4.84,0.91),(4.87,1.02),(4.94,0.83),(4.98,1.01),(5.01,0.59),(5.04,0.95),(5.08,0.91),(5.12,1.13),(5.15,0.52),(5.18,0.98),
(5.22,1.07),(5.26,0.96),(5.29,0.72),(5.32,0.99),(5.36,0.94),(5.4,0.9),(5.43,0.98),(5.5,0.88),(5.54,0.95),(5.57,1.0),
(5.64,0.91),(5.68,1.12),(5.71,0.87),(5.74,0.99),(5.78,0.76),(5.82,0.93),(5.85,0.75),(5.88,1.0),(5.92,0.88),(5.96,0.59),
(5.99,0.78),(6.02,0.93),(6.06,0.85),(6.11,1.03),(6.13,0.8),(6.16,0.95),(6.2,0.83),(6.25,0.81),(6.3,0.71),(6.34,1.13),
(6.39,0.81),(6.41,0.6),(6.44,0.95),(6.48,0.76),(6.53,0.7),(6.55,0.81),(6.62,0.6),(6.67,0.74),(6.69,0.68),(6.72,0.97),
(6.76,0.48),(6.81,0.43),(6.84,0.63),(6.86,0.85),(6.91,0.7),(6.95,0.76),(6.98,0.65),(7.0,0.77),(7.05,0.44),(7.09,0.64),
(7.12,0.88),(7.14,0.71),(7.19,0.82),(7.23,0.55),(7.26,0.73),(7.28,0.61),(7.33,0.52),(7.37,0.56),(7.4,0.26),(7.42,0.62),
(7.47,0.46),(7.51,0.73),(7.54,0.35),(7.56,0.62),(7.61,0.98),(7.65,0.46),(7.68,0.73),(7.75,0.6),(7.79,0.46),(7.82,0.18),
(7.85,0.38),(7.89,0.34),(7.93,0.36),(7.96,0.62),(8.0,0.46),(8.03,0.35),(8.07,0.34),(8.13,0.06),(8.17,0.13),(8.21,0.14),
(8.17,0.21),(8.21,0.51),(8.24,0.44),(8.31,0.38),(8.35,0.32),(8.38,0.56),(8.41,0.62),(8.45,0.48),(8.49,0.89),(8.52,0.41),
(8.55,0.51),(8.59,0.38),(8.63,0.44),(8.66,0.5),(8.69,0.37),(8.73,0.43),(8.77,0.29),(8.8,0.32),(8.83,0.73),(8.87,0.48),
(8.91,0.37),(8.94,0.45),(8.97,0.52),(9.01,0.38),(9.05,0.43),(9.08,0.37),(9.11,0.49),(9.15,0.38),(9.19,0.44),(9.22,0.62),
(9.25,0.37),(9.29,0.42),(9.33,0.52),(9.36,0.32),(9.39,0.4),(9.43,0.44),(9.47,0.54),(9.5,0.38),(9.53,0.64),(9.57,0.84),
(9.61,0.44),(9.64,0.49),(9.67,0.39),(9.71,0.35),(9.75,0.64),(9.78,0.4),(9.81,0.44),(9.85,0.3),(9.89,0.42),(9.92,0.52),
(9.95,0.49),(9.99,0.51),(10.04,0.46),(10.06,0.54),(10.09,0.51),(10.13,0.48),(10.18,0.54),(10.2,0.49),(10.23,0.79),(10.27,0.52),
(10.32,0.44),(10.34,0.38),(10.37,0.52),(10.41,0.46),(10.46,0.49),(10.48,0.42),(10.51,0.48),(10.55,0.42),(10.6,0.39),(10.62,0.48),
(10.65,0.38),(10.69,0.44),(10.74,0.51),(10.77,0.59),(10.79,0.47),(10.84,0.64),(10.88,0.56),(10.91,0.5),(10.93,0.44),(10.98,0.54),
(11.02,0.48),(11.05,0.62),(11.07,0.4),(11.12,0.43),(11.16,0.49),(11.19,0.38),(11.21,0.62),(11.26,0.44),(11.3,0.31),(11.33,0.49),
(11.35,0.42),(11.4,0.51),(11.44,0.44),(11.47,0.41),(11.49,0.83),(11.54,0.48),(11.58,0.38),(11.61,0.49),(11.64,0.44),(11.68,0.52),
(11.72,0.48),(11.75,0.35),(11.78,0.65),(11.82,0.46),(11.85,0.49),(11.88,0.55),(11.92,0.34),(11.96,0.62),(12.0,0.43),(12.03,0.48),
(12.06,0.5),(12.1,0.74),(12.14,0.44),(12.17,0.62),(12.2,0.66),(12.24,0.49),(12.28,0.48),(12.34,0.45),(12.38,0.71),(12.42,0.49),
(12.45,0.44),(12.52,0.49)]

genes = ["CXCL14", "DPP4", "GPX3", "IGFBP1", "IL2RB", "SLC15A2"]
colors = ["#3a53a4", "#f05a5b", "#000000", "#00a14b", "#f8981d", "#17b3e3"]
reported = [cxcl14_rep, dpp4_rep, gpx3_rep, igfbp1_rep, il2rb_rep, slc15a2_rep]
estimated = [cxcl14_est, dpp4_est, gpx3_est, igfbp1_est, il2rb_est, slc15a2_est]
x_ticks = [4, 6, 8, 10, 12]
y_ticks = [0, 0.25, 0.5, 0.75, 1.0, 1.25]
x_title_left = "Days (Reported LH+)"
x_title_right = "Days ( Estimated LH+)"
y_title = "Gene Expression (\u2212 \u0394CT, Scaled)"

# ---------------- layout geometry (pixels) ----------------
W, H = 666, 1282
left_col = (112, 341)
right_col = (420, 648)
row_tops = [74, 274, 476, 680, 878, 1081]
row_h = 142
xr_left = [[3.78, 12.78], [3.16, 12.77], [3.19, 12.49], [3.92, 12.47], [3.56, 12.73], [3.14, 12.81]]
xr_right = [[3.30, 12.66], [3.28, 12.89], [3.71, 12.77], [3.28, 12.89], [3.28, 12.89], [3.33, 12.93]]
y_range = [-0.065, 1.27]

def px(x):
    return x / W

def py(y):
    return 1 - y / H

fig = go.Figure()
axis_col = "#6f6f6f"
tick_font = dict(family="Liberation Sans, Arial, sans-serif", size=16, color="#4d4d4d")
annotations = []
n = 0
for r, gene in enumerate(genes):
    for c, (pts, xr, col) in enumerate([(reported[r], xr_left[r], left_col), (estimated[r], xr_right[r], right_col)]):
        n += 1
        xa = "x" if n == 1 else f"x{n}"
        ya = "y" if n == 1 else f"y{n}"
        fig.add_trace(go.Scatter(
            x=[p[0] for p in pts], y=[p[1] for p in pts], mode="markers",
            marker=dict(size=4.8, color=colors[r], line=dict(width=0)),
            xaxis=xa, yaxis=ya, showlegend=False, hoverinfo="x+y"))
        top = row_tops[r]
        fig.layout[f"xaxis{'' if n == 1 else n}"] = dict(
            domain=[px(col[0]), px(col[1])], anchor=ya, range=xr,
            tickvals=x_ticks, ticks="outside", ticklen=4, tickcolor=axis_col, tickwidth=1,
            showline=True, linecolor=axis_col, linewidth=1, showgrid=False, zeroline=False,
            tickfont=tick_font, fixedrange=True)
        fig.layout[f"yaxis{'' if n == 1 else n}"] = dict(
            domain=[py(top + row_h), py(top)], anchor=xa, range=y_range,
            tickvals=y_ticks, tickformat=".2f", ticks="outside", ticklen=4, tickcolor=axis_col, tickwidth=1,
            showline=True, linecolor=axis_col, linewidth=1, showgrid=False, zeroline=False,
            tickfont=tick_font, fixedrange=True)
        annotations.append(dict(
            x=px((col[0] + col[1]) / 2), y=py(top - 13), xref="paper", yref="paper",
            text=f"<i>{gene}</i>", showarrow=False, xanchor="center", yanchor="middle",
            font=dict(family="Liberation Sans, Arial, sans-serif", size=16, color="#000000")))

title_font = dict(family="Liberation Sans, Arial, sans-serif", size=17, color="#111111")
annotations += [
    dict(x=px(228), y=py(1258), xref="paper", yref="paper", text=x_title_left, showarrow=False,
         xanchor="center", yanchor="middle", font=title_font),
    dict(x=px(537), y=py(1258), xref="paper", yref="paper", text=x_title_right, showarrow=False,
         xanchor="center", yanchor="middle", font=title_font),
    dict(x=px(55), y=py(645), xref="paper", yref="paper", text=y_title, showarrow=False, textangle=-90,
         xanchor="center", yanchor="middle", font=title_font),
    dict(x=px(362), y=py(645), xref="paper", yref="paper", text=y_title, showarrow=False, textangle=-90,
         xanchor="center", yanchor="middle", font=title_font),
]

shapes = [
    dict(type="rect", xref="paper", yref="paper", x0=px(7), x1=1.0, y0=0, y1=py(6),
         fillcolor="#e6eef8", line=dict(width=0), layer="below"),
    dict(type="rect", xref="paper", yref="paper", x0=px(29), x1=px(651), y0=0, y1=py(33),
         fillcolor="#ffffff", line=dict(width=0), layer="below"),
]

fig.update_layout(
    width=W, height=H, margin=dict(l=0, r=0, t=0, b=0),
    paper_bgcolor="#ffffff", plot_bgcolor="rgba(0,0,0,0)",
    annotations=annotations, shapes=shapes, showlegend=False)

fig.write_html("out.html", config={"displayModeBar": False},
               post_script="document.body.style.margin='0';document.body.style.overflow='hidden';")
